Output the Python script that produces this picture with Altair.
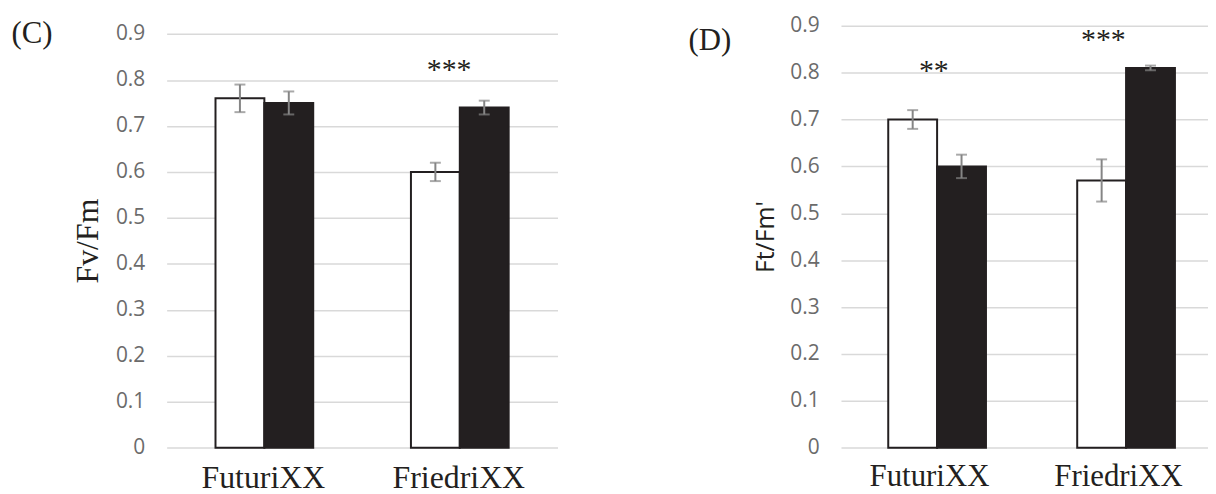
import altair as alt
import pandas as pd

# ---------------- data ----------------
cultivars = ["FuturiXX", "FriedriXX"]
treatments = ["white", "black"]
y_ticks = [0, 0.1, 0.2, 0.3, 0.4, 0.5, 0.6, 0.7, 0.8, 0.9]

# Panel (C): Fv/Fm
fvfm_white = [0.76, 0.60]
fvfm_white_err = [0.03, 0.02]
fvfm_black = [0.75, 0.74]
fvfm_black_err = [0.025, 0.015]
c_stars = ["***"]
c_star_cultivar = ["FriedriXX"]
c_star_y = [0.835]

# Panel (D): Ft/Fm'
ftfm_white = [0.70, 0.57]
ftfm_white_err = [0.02, 0.045]
ftfm_black = [0.60, 0.81]
ftfm_black_err = [0.025, 0.005]
d_stars = ["**", "***"]
d_star_cultivar = ["FuturiXX", "FriedriXX"]
d_star_y = [0.817, 0.882]

INK = "#231f20"
GRID = "#d9d9d9"
ERR = "#858585"
TICKLBL = "#6b6b6b"


def make_df(white, werr, black, berr):
    rows = []
    for i, c in enumerate(cultivars):
        rows.append(dict(cultivar=c, treatment="white", value=white[i],
                         lo=white[i] - werr[i], hi=white[i] + werr[i]))
        rows.append(dict(cultivar=c, treatment="black", value=black[i],
                         lo=black[i] - berr[i], hi=black[i] + berr[i]))
    return pd.DataFrame(rows)


def panel(df, stars, star_cult, star_y, star_dx, ymax, width, height,
          ytitle, ytitle_font, ytitle_size, title_x, title_y,
          xlab_size, xlab_pad, xlab_offset, xscale, tag, tag_x, tag_y):
    x_axis = alt.Axis(title=None, labelAngle=0, labelFont="Liberation Serif",
                      labelFontSize=xlab_size, labelColor=INK,
                      labelPadding=xlab_pad, labelBaseline="alphabetic",
                      labelOffset=xlab_offset,
                      domain=False, ticks=False, tickSize=0, grid=False)
    y_axis = alt.Axis(title=ytitle, values=y_ticks, format=".1~f",
                      grid=True, gridColor=GRID, gridWidth=1.5,
                      domain=False, ticks=False, tickSize=0,
                      labelPadding=22, labelFont="Open Sans",
                      labelFontSize=21, labelColor=TICKLBL,
                      titleFont=ytitle_font, titleFontSize=ytitle_size,
                      titleFontWeight="normal", titleColor=INK,
                      titleAngle=270, titleAlign="center",
                      titleBaseline="middle", titleX=title_x, titleY=title_y)
    yscale = alt.Scale(domain=[0, ymax], nice=False, zero=True)
    X = alt.X("cultivar:N", sort=cultivars, scale=xscale, axis=x_axis)
    XO = alt.XOffset("treatment:N", sort=treatments,
                     scale=alt.Scale(paddingInner=0, paddingOuter=0))

    base = alt.Chart(df)
    bars = base.mark_bar(stroke=INK, strokeWidth=2).encode(
        x=X, xOffset=XO,
        y=alt.Y("value:Q", scale=yscale, axis=y_axis),
        fill=alt.Fill("treatment:N", scale=alt.Scale(domain=treatments,
                                                      range=["#ffffff", INK]),
                      legend=None),
    )
    rules = base.mark_rule(color=ERR, strokeWidth=2).encode(
        x=X, xOffset=XO,
        y=alt.Y("lo:Q", scale=yscale, axis=y_axis), y2="hi:Q")
    cap_lo = base.mark_tick(color=ERR, thickness=2, size=11).encode(
        x=X, xOffset=XO, y=alt.Y("lo:Q", scale=yscale, axis=y_axis))
    cap_hi = base.mark_tick(color=ERR, thickness=2, size=11).encode(
        x=X, xOffset=XO, y=alt.Y("hi:Q", scale=yscale, axis=y_axis))

    layers = [bars, rules, cap_lo, cap_hi]
    for s, c, yv, dx in zip(stars, star_cult, star_y, star_dx):
        sdf = pd.DataFrame({"cultivar": [c], "value": [yv], "label": [s]})
        layers.append(
            alt.Chart(sdf).mark_text(font="Liberation Serif", fontSize=30,
                                     color=INK, baseline="alphabetic",
                                     dx=dx, dy=15).encode(
                x=X, y=alt.Y("value:Q", scale=yscale, axis=y_axis),
                text="label:N"))
    tdf = pd.DataFrame({"label": [tag]})
    layers.append(
        alt.Chart(tdf).mark_text(font="Liberation Serif", fontSize=31,
                                 color=INK, align="left",
                                 baseline="alphabetic").encode(
            x=alt.value(tag_x), y=alt.value(tag_y), text="label:N"))
    return alt.layer(*layers).properties(width=width, height=height)


df_c = make_df(fvfm_white, fvfm_white_err, fvfm_black, fvfm_black_err)
df_d = make_df(ftfm_white, ftfm_white_err, ftfm_black, ftfm_black_err)

left = panel(df_c, c_stars, c_star_cultivar, c_star_y, [-10.7],
             ymax=0.918, width=393, height=424.3,
             ytitle="Fv/Fm", ytitle_font="Liberation Serif", ytitle_size=32,
             title_x=-79.3, title_y=216,
             xlab_size=32, xlab_pad=39.5, xlab_offset=-1,
             xscale=alt.Scale(paddingInner=0.5, paddingOuter=0.25),
             tag="(C)", tag_x=-156, tag_y=17)

right = panel(df_d, d_stars, d_star_cultivar, d_star_y, [-1.7, -21.2],
              ymax=0.9, width=369, height=424.3,
              ytitle="Ft/Fm'", ytitle_font="Open Sans", ytitle_size=25,
              title_x=-76, title_y=212,
              xlab_size=31, xlab_pad=37.7, xlab_offset=-6,
              xscale=alt.Scale(paddingInner=0.5, paddingOuter=0.2211,
                               align=0.5655),
              tag="(D)", tag_x=-153.3, tag_y=24.5)

chart = alt.hconcat(left, right, spacing=131).properties(
    padding={"left": 3.5, "top": 5.5, "right": 0, "bottom": 0}
).configure_view(stroke=None)

chart.save("out.html", embed_options={"renderer": "svg", "actions": False})
